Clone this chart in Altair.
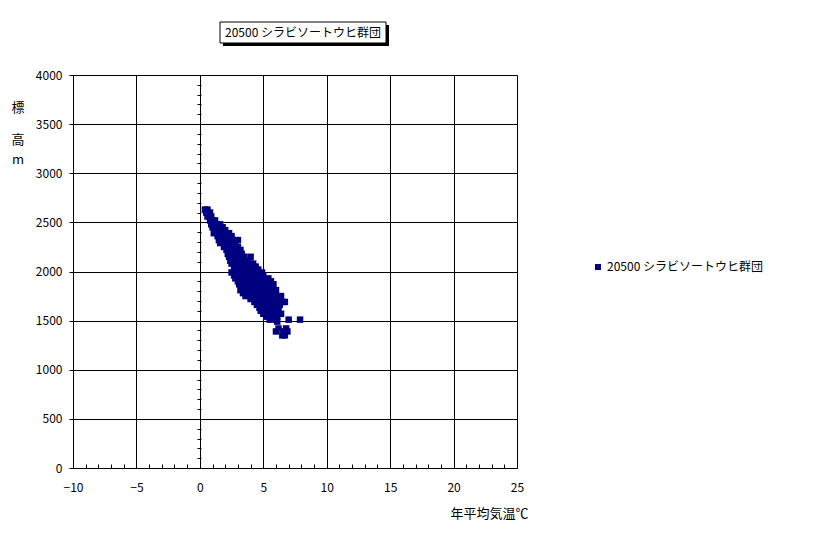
import altair as alt
import pandas as pd

FONT = "Noto Sans CJK JP"
SERIES = "20500 シラビソートウヒ群団"

# altitude levels (m) and mean annual temperatures (°C)
rows = [
    (2630, [0.4, 0.6]),
    (2600, [0.5, 0.8]),
    (2560, [0.6, 0.9]),
    (2520, [0.8, 1.0, 1.2]),
    (2480, [0.9, 1.3, 1.6]),
    (2450, [1.0, 1.4, 1.8]),
    (2420, [1.2, 1.6, 2.0]),
    (2390, [1.1, 1.5, 1.9, 2.3]),
    (2360, [1.4, 1.8, 2.1, 2.5]),
    (2320, [1.5, 1.9, 2.2, 2.6, 3.0]),
    (2290, [1.6, 2.0, 2.4, 2.8]),
    (2250, [1.9, 2.3, 2.6, 3.0]),
    (2220, [2.1, 2.5, 2.9, 3.2]),
    (2180, [2.2, 2.6, 3.0, 3.3]),
    (2150, [2.3, 2.7, 3.0, 3.5, 4.0]),
    (2110, [2.4, 2.8, 3.2, 3.5, 3.8]),
    (2080, [2.5, 2.9, 3.2, 3.6, 4.0, 4.2]),
    (2050, [2.7, 3.0, 3.4, 3.8, 4.1, 4.4]),
    (2020, [2.8, 3.2, 3.6, 4.0, 4.3, 4.6]),
    (1990, [2.5, 2.9, 3.3, 3.7, 4.1, 4.5, 4.9]),
    (1960, [2.7, 3.1, 3.5, 3.9, 4.3, 4.7, 5.0]),
    (1930, [2.8, 3.2, 3.6, 4.0, 4.4, 4.9, 5.4]),
    (1900, [3.0, 3.4, 3.8, 4.2, 4.6, 5.1, 5.6]),
    (1870, [3.1, 3.5, 3.9, 4.4, 4.8, 5.3, 5.8]),
    (1840, [3.3, 3.7, 4.1, 4.5, 4.9, 5.3, 5.7]),
    (1810, [3.2, 3.7, 4.2, 4.6, 5.0, 5.5, 6.0]),
    (1780, [3.4, 3.9, 4.3, 4.7, 5.2, 5.6, 5.9]),
    (1750, [3.6, 4.0, 4.4, 4.8, 5.3, 5.7, 6.0, 6.4]),
    (1720, [4.0, 4.4, 4.8, 5.2, 5.6, 6.2]),
    (1690, [4.3, 4.7, 5.1, 5.5, 5.9, 6.5, 6.7]),
    (1660, [4.5, 4.9, 5.3, 5.7, 6.1, 6.3]),
    (1630, [4.7, 5.1, 5.5, 6.0]),
    (1600, [4.8, 5.2, 5.6, 6.2]),
    (1570, [5.0, 5.4, 5.8, 6.4]),
    (1540, [5.3, 5.6, 6.1]),
    (1510, [5.5, 6.0, 7.0, 7.9]),
    (1490, [6.1]),
    (1420, [6.2, 6.8]),
    (1390, [6.0, 6.6, 6.9]),
    (1350, [6.5, 6.7]),
]

temps = []
alts = []
for a, xs in rows:
    for t in xs:
        temps.append(t)
        alts.append(a)

x_major = [-10, -5, 0, 5, 10, 15, 20, 25]
x_minor = list(range(-10, 26))
y_major = [0, 500, 1000, 1500, 2000, 2500, 3000, 3500, 4000]
y_minor = list(range(0, 4001, 100))
y_title = ["標", "高", "m"]

df = pd.DataFrame({"temp": temps, "alt": alts, "series": SERIES})

W, H = 444, 393

xs_ = alt.Scale(domain=[-10, 25], nice=False, zero=False)
ys_ = alt.Scale(domain=[0, 4000], nice=False, zero=False)

scatter = alt.Chart(df).mark_square(size=42, opacity=1, filled=True).encode(
    x=alt.X("temp:Q", scale=xs_, axis=alt.Axis(
        orient="bottom", values=x_major, grid=True, gridColor="black", gridOpacity=1,
        ticks=False, labelPadding=14, labelFontSize=12, labelFont=FONT, labelColor="black",
        labelFlush=False, format="d",
        domain=True, domainColor="black",
        title="年平均気温℃", titleFont=FONT, titleFontSize=13, titleFontWeight="normal",
        titleX=455, titleY=45, titleAlign="right", titleBaseline="middle", titleColor="black")),
    y=alt.Y("alt:Q", scale=ys_, axis=alt.Axis(
        orient="left", values=y_major, grid=True, gridColor="black", gridOpacity=1,
        ticks=True, tickSize=4, tickColor="black", labelPadding=7, labelFontSize=12,
        labelFont=FONT, labelColor="black", labelFlush=False, format="d",
        domain=True, domainColor="black", title=None)),
    color=alt.Color("series:N", scale=alt.Scale(range=["#000080"]), legend=alt.Legend(
        orient="none", legendX=519, legendY=186, title=None, symbolType="square",
        symbolSize=36, labelFont=FONT, labelFontSize=12, labelColor="black", labelOffset=3,
        padding=0, symbolStrokeWidth=0)),
)

minor = alt.Chart(df).mark_point(opacity=0).encode(
    x=alt.X("temp:Q", scale=xs_, axis=alt.Axis(
        orient="top", offset=-H, values=x_minor, labels=False, grid=False, domain=False,
        ticks=True, tickSize=4, tickColor="black", title=None)),
    y=alt.Y("alt:Q", scale=ys_, axis=alt.Axis(
        orient="left", offset=-128, values=y_minor, labels=False, grid=False, domain=False,
        ticks=True, tickSize=4, tickColor="black", title=None)),
)

one = pd.DataFrame({"t": [SERIES]})
shadow = alt.Chart(one).mark_rect(color="black").encode(
    x=alt.value(150), x2=alt.value(316), y=alt.value(-50), y2=alt.value(-29))
box = alt.Chart(one).mark_rect(fill="white", stroke="black", strokeWidth=1).encode(
    x=alt.value(147), x2=alt.value(313), y=alt.value(-53), y2=alt.value(-32))
title = alt.Chart(one).mark_text(font=FONT, fontSize=12, color="black",
                                 align="center", baseline="middle").encode(
    x=alt.value(230), y=alt.value(-42), text="t:N")

ytitle_parts = []
for txt, yy in zip(y_title, [33, 65, 85]):
    ytitle_parts.append(
        alt.Chart(pd.DataFrame({"t": [txt]})).mark_text(
            font=FONT, fontSize=13, color="black", align="center", baseline="middle"
        ).encode(x=alt.value(-55), y=alt.value(yy), text="t:N")
    )

chart = alt.layer(scatter, minor, shadow, box, title, *ytitle_parts).resolve_scale(
    x="independent", y="independent"
).resolve_axis(x="independent", y="independent").properties(
    width=W, height=H,
    autosize=alt.AutoSizeParams(type="none"),
    padding={"left": 65, "top": 67, "right": 285, "bottom": 60},
).configure_view(stroke="black", strokeWidth=1).configure(background="white")

chart.save("out.html", embed_options={"renderer": "svg", "actions": False})
